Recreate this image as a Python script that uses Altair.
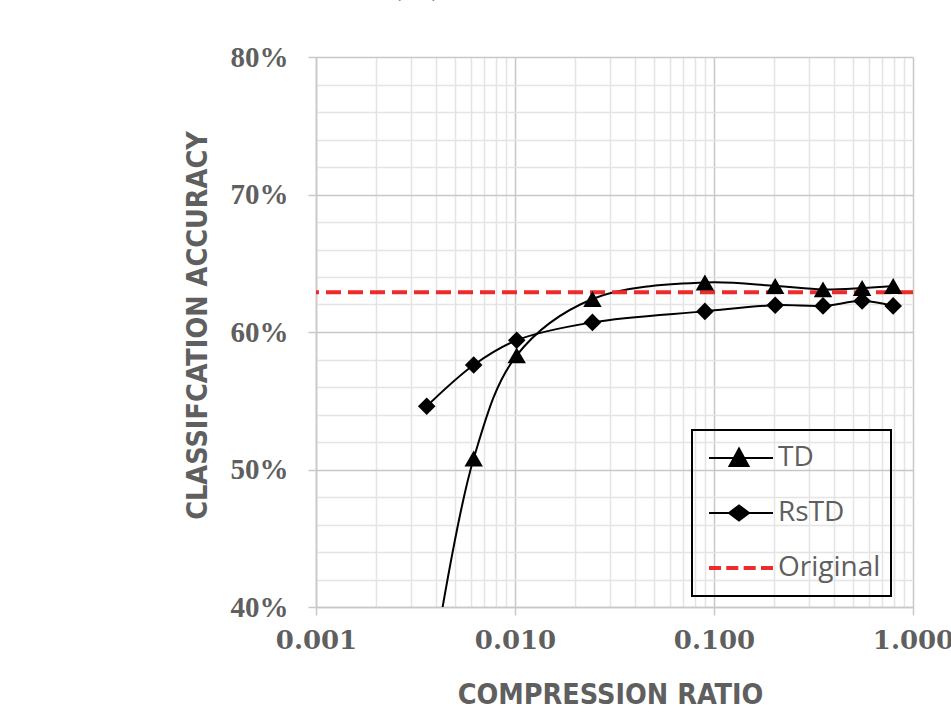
import altair as alt
import pandas as pd

# ---- data ----
ratios = [0.0036, 0.0062, 0.0102, 0.0245, 0.090, 0.203, 0.353, 0.555, 0.795]
td_acc = [33.0, 50.8, 58.3, 62.4, 63.6, 63.35, 63.1, 63.2, 63.35]
rstd_acc = [54.6, 57.6, 59.4, 60.7, 61.5, 61.95, 61.9, 62.25, 61.9]
original_acc = [62.9]
series_names = ["TD", "RsTD", "Original"]

x_grid = [0.001, 0.002, 0.003, 0.004, 0.005, 0.006, 0.007, 0.008, 0.009,
          0.01, 0.02, 0.03, 0.04, 0.05, 0.06, 0.07, 0.08, 0.09,
          0.1, 0.2, 0.3, 0.4, 0.5, 0.6, 0.7, 0.8, 0.9, 1.0]
x_major = [0.001, 0.01, 0.1, 1.0]
y_grid = [40, 42, 44, 46, 48, 50, 52, 54, 56, 58, 60, 62, 64, 66, 68, 70,
          72, 74, 76, 78, 80]

df = pd.DataFrame({
    "ratio": ratios + ratios,
    "acc": td_acc + rstd_acc,
    "series": ["TD"] * len(ratios) + ["RsTD"] * len(ratios),
})

GRAY_TXT = "#5f5f5f"
MAJOR = "#c8c8c8"
MINOR = "#e4e4e4"
major_x_test = "indexof([" + ",".join(str(v) for v in x_major) + "], datum.value) >= 0"
major_y_test = "datum.value % 10 == 0"
TITLE_FONT = "Liberation Sans Narrow, DejaVu Sans Condensed, Open Sans"

x_axis = alt.Axis(
    values=x_grid, tickCount=100,
    labelExpr=f"{major_x_test} ? format(datum.value, '.3f') : ''",
    labelOverlap=False,
    gridColor={"condition": {"test": major_x_test, "value": MAJOR}, "value": MINOR},
    gridWidth=1.5,
    tickOpacity={"condition": {"test": major_x_test, "value": 1}, "value": 0},
    tickColor=MAJOR, tickSize=8, tickWidth=1.5,
    domainColor=MAJOR, domainWidth=1.5,
    labelFont="DejaVu Serif", labelFontSize=26, labelFontWeight="bold",
    labelColor=GRAY_TXT, labelPadding=12, labelFlush=False,
    titleFont=TITLE_FONT, titleFontSize=28.5, titleFontWeight="bold",
    titleColor=GRAY_TXT, titleX=294, titleY=87, titleBaseline="middle",
)
y_axis = alt.Axis(
    values=y_grid, tickCount=100,
    labelExpr=f"{major_y_test} ? datum.value + '%' : ''",
    labelOverlap=False,
    gridColor={"condition": {"test": major_y_test, "value": MAJOR}, "value": MINOR},
    gridWidth=1.5,
    tickOpacity={"condition": {"test": major_y_test, "value": 1}, "value": 0},
    tickColor=MAJOR, tickSize=8, tickWidth=1.5,
    domainColor=MAJOR, domainWidth=1.5,
    labelFont="Liberation Serif", labelFontSize=29, labelFontWeight="bold",
    labelColor=GRAY_TXT, labelPadding=20,
    titleFont=TITLE_FONT, titleFontSize=28.5, titleFontWeight="bold",
    titleColor=GRAY_TXT, titleX=-119, titleY=268, titleBaseline="middle",
    titleAlign="center",
)

x_enc = alt.X("ratio:Q", scale=alt.Scale(type="log", domain=[0.001, 1.0]),
              axis=x_axis, title="COMPRESSION RATIO")
y_enc = alt.Y("acc:Q", scale=alt.Scale(domain=[40, 80]), axis=y_axis,
              title="CLASSIFCATION ACCURACY")

base = alt.Chart(df).encode(x=x_enc, y=y_enc)

lines = base.mark_line(interpolate="catmull-rom", color="black",
                       strokeWidth=2, clip=True).encode(detail="series:N")
td_pts = base.transform_filter(alt.datum.series == "TD").mark_point(
    shape="triangle-up", filled=True, color="black", size=340, opacity=1, clip=True)
rstd_pts = base.transform_filter(alt.datum.series == "RsTD").mark_point(
    shape="diamond", filled=True, color="black", size=310, opacity=1, clip=True)

orig = alt.Chart(pd.DataFrame({"acc": original_acc})).mark_rule(
    color="#ee2b2b", strokeWidth=4, strokeDash=[15, 7]
).encode(y=alt.Y("acc:Q"))

# legend symbols (line + marker) as custom paths
td_sym = "M-0.833,0H0.944M0,-0.264L0.264,0.222L-0.264,0.222Z"
rstd_sym = "M-0.833,0H0.944M-0.278,0L0,-0.21L0.278,0L0,0.21Z"
orig_sym = ("M-0.806,-0.028H-0.528V0.028H-0.806Z"
            "M-0.325,-0.028H-0.047V0.028H-0.325Z"
            "M0.158,-0.028H0.436V0.028H0.158Z"
            "M0.639,-0.028H0.917V0.028H0.639Z")

leg = alt.Legend(
    title=None, orient="none", legendX=376, legendY=373,
    strokeColor="black", padding=10, clipHeight=36, rowPadding=19,
    symbolSize=5184, symbolStrokeWidth=2, symbolOpacity=1, labelOffset=2,
    labelFont="Open Sans", labelFontSize=28, labelColor=GRAY_TXT,
)
legend_layer = alt.Chart(pd.DataFrame({"series": series_names})).transform_filter(
    "datum.series == 'none'"
).mark_point(filled=True, opacity=1).encode(
    shape=alt.Shape("series:N", scale=alt.Scale(domain=series_names,
                    range=[td_sym, rstd_sym, orig_sym]), legend=leg),
    fill=alt.Fill("series:N", scale=alt.Scale(domain=series_names,
                  range=["black", "black", "#ee2b2b"]), legend=leg),
    stroke=alt.Stroke("series:N", scale=alt.Scale(domain=series_names,
                      range=["black", "black", "#ee2b2b"]), legend=leg),
)

chart = alt.layer(lines, orig, td_pts, rstd_pts, legend_layer).properties(
    width=597, height=550,
    autosize=alt.AutoSizeParams(type="none"),
    padding={"left": 316, "top": 57, "right": 38, "bottom": 105},
    title=alt.Title("(a)", font="DejaVu Serif", fontSize=44, fontWeight="normal",
                    color="#444444", anchor="middle", dx=-198, dy=23, offset=28,
                    baseline="alphabetic"),
).configure_view(stroke="transparent").configure_legend(strokeWidth=2)

chart.save("out.html", embed_options={"renderer": "svg", "actions": False})
